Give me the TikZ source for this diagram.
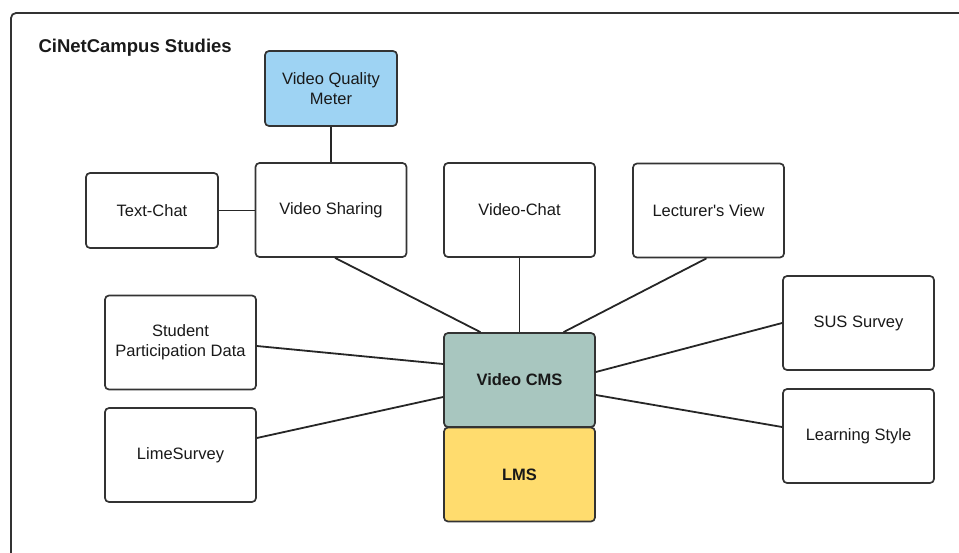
\documentclass[tikz,border=0pt]{standalone}
\usepackage{fontspec}
\setmainfont{Liberation Sans}
\begin{document}
\begin{tikzpicture}[x=1pt,y=-1pt,
  box/.style={draw=black!80, line width=1.7pt, rounded corners=4pt, fill=white,
    minimum width=151pt, minimum height=94pt, inner sep=0pt, align=center,
    font=\fontsize{16.5}{20}\selectfont, text=black!90},
  small/.style={box, minimum width=132pt, minimum height=75pt},
  link/.style={draw=black!85, line width=1.8pt}]
\useasboundingbox (0,0) rectangle (959,552);
\begin{scope}
\clip (0,0) rectangle (959,552);
\draw[black!80, line width=1.8pt, rounded corners=5pt] (11,13) rectangle (990,600);
\end{scope}
\node[anchor=west, font=\bfseries\fontsize{18.5}{22}\selectfont, text=black!90] (title) at (35,48) {CiNetCampus Studies};
\node[small, fill={rgb,255:red,158;green,211;blue,243}] (vqm) at (331,88.5) {Video Quality\\Meter};
\node[box] (vs) at (331,210) {Video Sharing};
\node[small] (tc) at (152,210.5) {Text-Chat};
\node[box] (vc) at (519.5,210) {Video-Chat};
\node[box] (lv) at (708.5,210.5) {Lecturer\textquotesingle s View};
\node[box] (spd) at (180.5,342.5) {Student\\Participation Data};
\node[box] (ls) at (180.5,455) {LimeSurvey};
\node[box, fill={rgb,255:red,168;green,198;blue,191}, font=\bfseries\fontsize{16.5}{20}\selectfont] (cms) at (519.5,380) {Video CMS};
\node[box, fill={rgb,255:red,255;green,220;blue,110}, font=\bfseries\fontsize{16.5}{20}\selectfont] (lms) at (519.5,474.5) {LMS};
\node[box] (sus) at (858.5,323) {SUS Survey};
\node[box] (lst) at (858.5,436) {Learning Style};
\draw[link] (vqm.south) -- (vs.north);
\draw[link] (tc.east) -- (tc.east -| vs.west);
\draw[link] ([xshift=4pt]vs.south) -- ([xshift=-39pt]cms.north);
\draw[link] (vc.south) -- (cms.north);
\draw[link] ([xshift=-2pt]lv.south) -- ([xshift=44pt]cms.north);
\draw[link] ([yshift=-3.5pt]spd.east) -- ([yshift=16pt]cms.west);
\draw[link] ([yshift=17pt]ls.east) -- ([yshift=-17pt]cms.west);
\draw[link] (sus.west) -- ([yshift=8pt]cms.east);
\draw[link] ([yshift=9pt]lst.west) -- ([yshift=-15pt]cms.east);
\end{tikzpicture}
\end{document}
